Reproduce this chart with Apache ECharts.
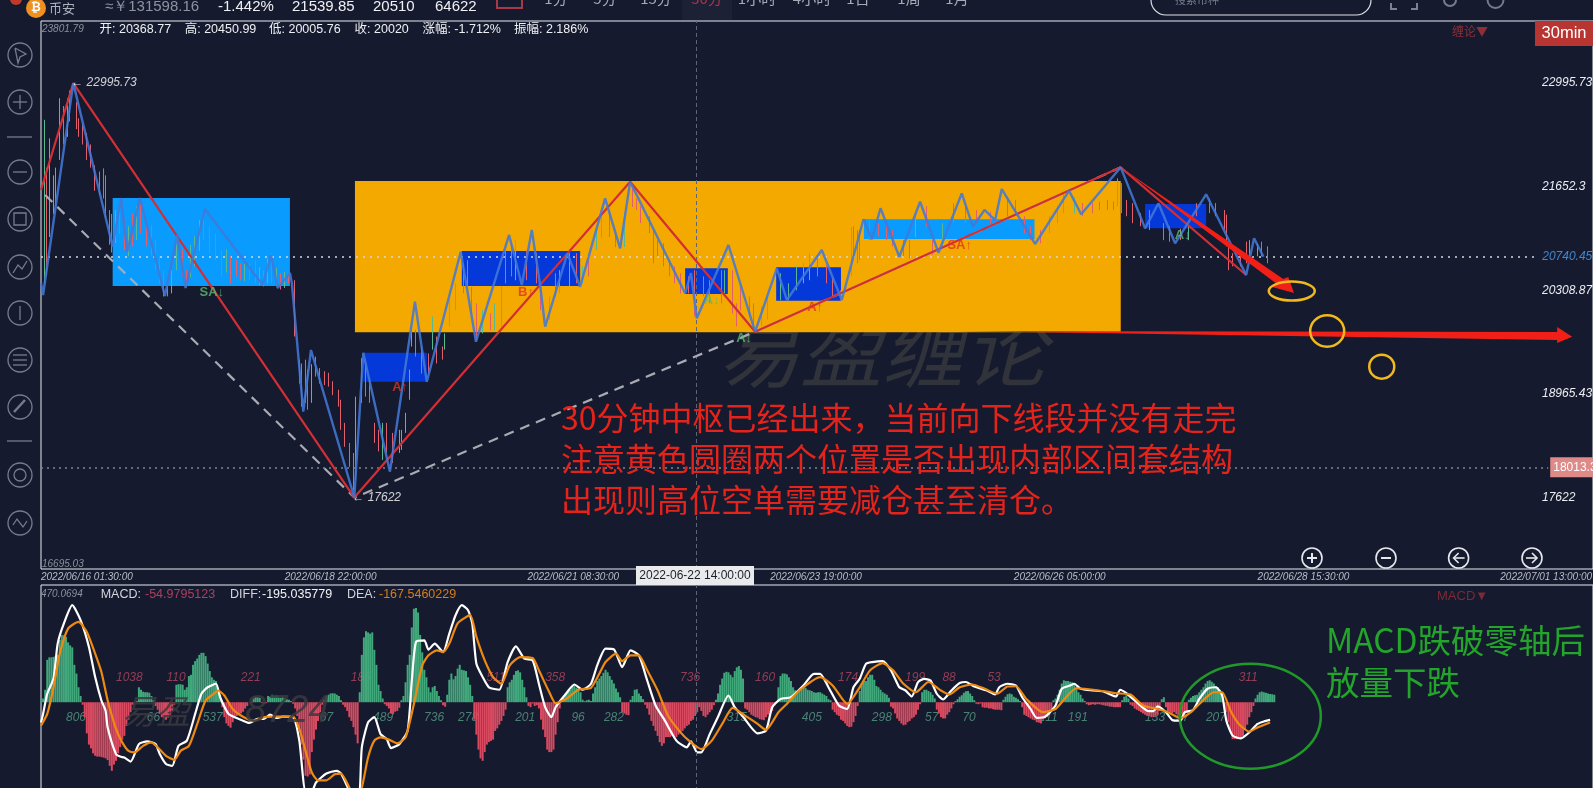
<!DOCTYPE html>
<html><head><meta charset="utf-8">
<style>html,body{margin:0;padding:0;background:#161a2e;overflow:hidden}#c{width:1593px;height:788px}</style>
<script src="https://cdn.jsdelivr.net/npm/echarts@6/dist/echarts.min.js"></script>
</head><body><div id="c"></div>
<script>
const tickBars=[0,117,233.5,350,467,584,700.5];
const tickTimes=['2022/06/16 01:30:00','2022/06/18 22:00:00','2022/06/21 08:30:00','2022/06/23 19:00:00','2022/06/26 05:00:00','2022/06/28 15:30:00','2022/07/01 13:00:00'];
const priceTicks=[22995.73,21652.3,20308.87,18965.43,17622];
const priceMin=16695.03, priceMax=23801.79, macdMax=470.0694, macdMin=-356, barMax=745;
const crossBar=314.5, lastPrice=20740.45, crossPrice=18013.3;

// 笔 (bar, price)
const biLine=[[0,20404],[1,20248],[15.5,22995.73],[34.4,20875],[38.4,21506],[41.4,20810],[47.5,21506],[59.5,20235],[65.4,21027],[69.4,20339],[78.7,21364],[106.4,20378],[110.4,20767],[113.6,20339],[119.5,20534],[120.4,20404],[125.9,18735],[129.6,19535],[150.4,17622],[154.7,19500],[167.5,17957],[179.5,20162],[185.2,19124],[201.5,20810],[208.8,19643],[224.7,21027],[230.8,20378],[235.6,21091],[239.6,20378],[242,19837],[252.7,20789],[258.8,20356],[270.8,21502],[278,20854],[282.8,21718],[309.2,20270],[312,20534],[314.8,19946],[330,20897],[342.8,19772],[353.2,20595],[358,20184],[374.8,20832],[384.4,20184],[394.8,21230],[398.8,20971],[403,21373],[412,20745],[422,21458],[430.8,20797],[442,21567],[447.3,21134],[452.9,21351],[458,21221],[461.2,21623],[477.2,20910],[493.5,21601],[499.3,21295],[518.3,21904],[530,21113],[536.4,21438],[544.4,20919],[559.3,21554],[578.5,20508],[582.3,20984],[586.8,20745]];
// 线段
const segLine=[[0,21610],[15.5,22995.73],[150.4,17622],[282.8,21718],[342.8,19772],[518.3,21904],[578.5,20508]];
const trendLine=[[2,21545],[150.4,17622],[342.8,19772],[518.3,21904]];
// zones: bar from, bar to, price low, price high
const zoneOrange=[[150.7,518.3,19765,21727]];
const zoneCyan=[[34.4,119.5,20365,21506],[395,476.9,20975,21230]];
const zoneBlue=[[154.7,185.2,19124,19500],[202,258.8,20365,20819],[309.2,329.7,20261,20595],[352.9,384,20175,20608],[530,559.3,21113,21429]];
// bar, price, text
const signals=[[82,20287,'SA↓'],[172.4,19055,'A↑'],[232.8,20287,'B↑'],[322,20184,'A↓'],[337.5,19691,'A↓'],[371.6,20093,'A↑'],[441,20897,'SA↑'],[548,21027,'A↓']];
const extremes=[[15.5,22995.73,'← 22995.73'],[150.4,17622,'← 17622']];
const arrowDown=[[518.3,21904],[596.3,20456],[598.7,20482],[601.5,20274],[591,20352],[593.3,20391]];
const arrowFlat=[[439.8,19782],[727.8,19769],[727.8,19833],[735,19708],[727.8,19626],[727.8,19665]];
const rings=[[600.4,20300],[617.4,19782],[643.6,19319]];
const greenRing=[[580.5,-56]];

// bar, open, close, low, high
const candles=[[2,21600,21950,20400,22520],[3,21400,21050,20500,21900],[4,21500,22000,21000,22280],[6,21400,21700,21300,21800],[7,21500,21800,21400,21900],[9,22100,22600,22000,22800],[11,22600,22350,22200,22700],[13,22450,22700,22300,22800],[14,22600,22850,22500,22900],[17,22700,22500,22400,22750],[18,22500,22350,22300,22540],[20,22420,22260,22200,22470],[22,22280,22080,22000,22350],[24,22160,21960,21900,22200],[26,21880,21680,21600,21930],[28,21800,21620,21550,21850],[30,21830,21570,21500,21890],[31,21720,21330,21250,21800],[33,21300,21000,20900,21350],[34,21250,20900,20800,21300],
[36,21020,21250,20920,21350],[38,21350,21120,21040,21440],[40,21150,20900,20830,21220],[42,20850,21060,20750,21140],[44,21230,20950,20880,21310],[46,21050,21300,20960,21400],[48,21370,21120,21050,21440],[51,21120,20950,20880,21180],[53,21100,20850,20760,21150],[55,20900,20650,20570,20960],[57,20680,20470,20400,20750],[59,20500,20300,20230,20560],[61,20360,20270,20230,20400],[63,20330,20520,20270,20570],[65,20680,20920,20570,21010],[68,20770,20550,20490,20830],[70,20530,20400,20360,20570],[72,20560,20820,20480,20900],[74,20700,20950,20620,21010],[76,20900,21150,20820,21220],[78,21240,21030,20960,21310],[81,21060,20860,20790,21140],[84,20980,20780,20700,21050],[87,20770,20550,20490,20830],[89,20600,20780,20540,20840],[91,20690,20460,20400,20750],[94,20650,20540,20490,20700],[96,20610,20490,20440,20660],[98,20480,20600,20430,20650],[100,20610,20490,20440,20660],[103,20640,20460,20400,20700],[105,20420,20560,20380,20610],[107,20530,20400,20360,20570],[109,20450,20650,20400,20720],[111,20720,20470,20400,20790],[113,20420,20540,20370,20600],[115,20480,20360,20320,20530],[117,20380,20500,20340,20550],[119,20490,20440,20400,20530],[122,20350,19800,19710,20440],
[124,19360,19150,19100,19410],[125,19250,18920,18800,19360],[127,19300,18950,18850,19410],[128,19150,18850,18760,19280],[130,18900,19250,18850,19350],[132,19400,19250,19190,19450],[134,19260,19140,19100,19300],[136,19210,19120,19080,19260],[138,19200,19100,19060,19240],[140,19090,18990,18950,19130],[143,18970,18850,18800,19020],[144,18830,18560,18500,18890],[146,18540,18330,18280,18590],[148,18280,18080,18020,18330],[150,18100,17800,17720,18200],[151,18000,18800,17850,18930],[154,19000,19300,18850,19430],[156,19300,19000,18930,19360],[158,19100,18900,18850,19150],[160,18550,18380,18330,18590],[162,18450,18270,18220,18500],[164,18200,18500,18110,18590],[166,18500,18270,18200,18590],[169,18380,18150,18070,18460],[172,18270,18440,18200,18500],[173,18300,18450,18240,18500],[175,18500,18680,18460,18720],[177,18950,19200,18890,19280],[178,19650,19830,19580,19880],[180,19750,19500,19450,19800],[183,19530,19290,19230,19580],[186,19440,19290,19230,19490],[188,19600,19900,19540,19970],[190,19650,19420,19360,19710],[193,19540,19440,19410,19580],[194,19580,19700,19540,19750],
[196,20000,20200,19840,20190],[199,20120,20330,20050,20400],[203,20600,20300,20270,20660],[205,20650,20400,20360,20700],[207,20300,20080,20000,20350],[209,20100,19800,19660,20140],[212,19900,20020,19750,20050],[216,20000,19830,19790,20010],[218,19870,20080,19790,20140],[221,19950,20250,19840,20360],[223,20720,20450,20400,20830],[226,20900,20600,20490,20920],[228,20620,20890,20440,20960],[233,20760,20520,20440,20830],[238,20720,20480,20400,20790],[240,20300,20100,20050,20360],[244,19950,20140,19930,20230],[247,20470,20280,20230,20530],[249,20330,20510,20270,20570],[254,20450,20700,20360,20790],[257,20740,20500,20400,20790],[260,20400,20520,20400,20620],[263,20560,20470,20490,20700],[267,21000,21100,20830,21090],[269,21100,21260,20990,21310],[273,21320,21090,21000,21350],[276,21010,20950,20870,21050],[280,20950,21150,20870,21310],[284,21580,21410,21390,21630],[286,21470,21370,21350,21500],[288,21360,21230,21180,21400],[292,21230,21130,21050,21270],[294,21040,20760,20660,21090],[296,20960,20800,20750,20960],[299,20880,20680,20620,20920],[302,20660,20540,20490,20700],[304,20570,20460,20400,20620],[307,20490,20320,20270,20530],[311,20440,20330,20270,20490],[314,20500,20100,19970,20570],[318,20400,20270,20230,20490],[321,20350,20190,20140,20440],[327,20440,20190,20140,20570],[328,20250,20500,20270,20570],[332,20500,20170,20010,20570],[334,20100,19920,19840,20140],[336,20350,20130,20050,20360],[340,20190,20020,19970,20230],[342,20130,19950,19800,20140],[346,19920,20050,19840,20100],[349,20010,20200,19930,20230],[355,20280,20500,20180,20530],[359,20300,20380,20180,20400],[363,20350,20540,20310,20620],[366,20450,20620,20400,20660],[369,20570,20740,20440,20790],[373,20710,20550,20490,20720],[377,20620,20460,20400,20640],[380,20440,20280,20230,20480],[384,20300,20210,20180,20310],[389,20450,20950,20490,21130],[392,21000,20750,20660,21090],
[390,21040,20900,20750,21140],[393,20960,20780,20700,21090],[398,21200,21010,20960,21220],[402,21130,21050,21010,21180],[406,21140,21000,20960,21160],[409,21050,20930,20880,21090],[414,20920,20800,20750,20960],[417,20930,20790,20720,20960],[420,21070,21200,21000,21270],[425,21360,21220,21140,21400],[428,20920,20830,20770,20960],[433,21020,21150,20880,21180],[438,21320,21210,21180,21440],[444,21300,21220,21180,21440],[449,21300,21220,21180,21350],[456,21290,21220,21180,21330],[464,21450,21310,21270,21520],[468,21430,21350,21310,21480],[472,21200,21120,21050,21270],[475,21080,21010,20960,21140],[480,21000,20950,20920,21090],[484,21110,21200,21050,21270],[488,21260,21350,21180,21400],[491,21440,21550,21310,21570],[496,21430,21530,21310,21520],[500,21420,21350,21270,21440],[505,21400,21340,21310,21440],[508,21420,21370,21350,21460],[512,21440,21390,21350,21480],[515,21430,21370,21350,21460],[517,21600,21750,21400,21760],[519,21650,21400,21310,21700],[521,21430,21330,21270,21480],[524,21400,21280,21180,21440],[528,21250,21170,21140,21310],[532,21300,21170,21090,21350],[539,21130,21030,20960,21180],[542,21090,21000,20940,21140],[547,21070,21000,20960,21110],[551,21020,21100,20960,21140],[555,21380,21300,21270,21440],[561,21480,21370,21310,21500],[564,21400,21330,21270,21440],[568,21300,21170,21090,21350],[569,21200,20950,20880,21290],[570,20850,20700,20570,20880],[572,20780,20660,20620,20790],[576,20750,20660,20620,20790],[579,20850,20730,20660,20940],[580,20800,20920,20750,20960],[584,20850,20920,20750,20920],[586,20940,20810,20750,20940],[589,20850,20740,20660,20880]];

// MACD histogram, one value per bar from bar 0
const macdBars=[10,15,50,170,180,180,182,185,190,250,270,268,262,240,228,220,150,115,60,25,
-10,-60,-125,-170,-185,-205,-215,-218,-218,-220,-222,-225,-232,-255,-275,-250,-235,-205,-180,-150,-135,-95,-70,-40,-10,
0,5,60,50,42,40,40,38,25,8,-15,-30,-45,-60,-65,-70,-62,-50,-35,-10,
70,72,72,70,50,60,105,110,150,165,175,190,198,198,185,155,125,100,90,85,50,30,
-20,-60,-85,-95,-102,-80,-60,-55,-50,-45,-38,-25,-15,0,-3,18,22,20,18,-3,-5,-4,
25,22,30,24,28,22,18,22,15,12,10,5,-6,-25,-55,-100,-170,-230,-295,-298,-290,-200,-150,-110,-75,-40,-10,
10,25,30,35,36,35,30,25,8,-10,-20,-35,-60,-75,-100,-130,-165,
40,190,260,285,280,275,280,210,150,70,45,15,-8,-15,-25,-45,-48,-38,-35,-22,
8,25,80,150,190,300,375,378,360,270,200,130,100,60,40,60,65,45,25,8,-12,-18,30,90,115,
92,105,135,150,130,128,125,100,70,25,
-70,-130,-190,-225,-235,-200,-170,-160,-155,-150,-115,-105,-90,-75,-55,-30,
60,80,90,110,125,128,120,90,60,20,-15,-20,-5,-15,-12,-25,-70,-110,-140,-190,-200,-200,-190,-130,-80,-25,
5,20,35,45,50,62,65,58,50,40,10,4,8,10,5,35,60,85,95,105,118,130,120,105,90,75,55,40,20,
-40,-45,-50,-52,10,25,50,52,35,25,12,
-10,-25,-50,-75,-95,-115,-135,-160,-175,-165,-140,-140,-140,-135,-135,-140,-130,-120,-115,-105,-95,-90,-75,-70,-55,-40,-20,-35,-55,-60,-50,-40,-30,-12,
10,35,70,95,118,122,120,110,100,125,140,145,130,95,
-25,-30,-40,-50,-55,-60,-62,-68,-70,-72,-60,-50,-40,-35,-15,-5,
60,105,115,115,112,100,85,60,48,45,50,50,60,58,50,48,45,40,38,40,40,35,30,25,12,8,
-30,-40,-50,-55,-70,-75,-85,-95,-100,-98,-80,-55,-15,
45,75,90,85,100,110,110,90,65,60,50,40,35,30,18,
-18,-25,-45,-65,-75,-85,-92,-90,-80,-75,-65,-60,-50,-30,-8,
40,50,50,45,40,30,15,-30,-45,-60,-65,-65,-50,-40,-25,-8,
5,12,22,28,38,44,45,35,25,8,-6,-8,-5,-20,-22,-22,-25,-25,-28,-30,-30,-30,-32,
10,22,32,35,32,22,18,12,5,
-20,-50,-55,-60,-65,-70,-72,-80,-82,-85,-70,-65,-60,-50,-30,
8,15,30,50,75,88,85,85,82,80,75,60,40,30,15,5,
-8,-12,-10,-8,-10,-8,-8,-10,-12,-14,-15,-18,-18,-20,-20,-20,-20,
8,22,28,15,-10,-15,-25,-30,-35,-40,-45,-50,-55,-55,-60,-60,-55,-50,-35,12,20,
-20,-35,-40,-45,-40,-48,-50,-50,-55,-50,-40,
10,18,25,28,30,40,50,60,75,85,88,82,75,65,60,50,40,
-10,-40,-80,-120,-148,-148,-148,-146,-145,-135,-110,-90,-60,-40,-15,
15,30,40,43,40,38,35,33,32,30];
const diffLine=[[0,-81],[1,-47],[3,34],[6,94],[8,235],[11,316],[15,389],[19,329],[23,222],[26,101],[29,7],[31,-34],[32,-101],[36,-208],[38,-218],[40,-222],[43,-238],[47,-168],[51,-157],[55,-168],[57,-208],[60,-248],[63,-255],[66,-175],[70,-154],[74,-47],[77,34],[80,60],[84,74],[86,20],[90,-47],[93,-60],[97,-74],[100,-83],[104,-67],[107,-67],[110,-50],[113,-63],[116,-58],[121,-60],[124,-154],[127,-356],[130,-356],[132,-322],[137,-286],[142,-275],[144,-286],[148,-356],[151,-410],[153,-356],[154,-181],[157,-81],[160,-60],[163,-128],[166,-148],[168,-184],[172,-168],[176,-114],[178,87],[180,242],[184,248],[186,211],[189,235],[193,201],
[196,275],[199,349],[202,389],[205,369],[207,316],[209,154],[212,101],[215,60],[220,50],[224,161],[228,224],[232,175],[236,168],[239,74],[242,-20],[245,-60],[247,-20],[252,34],[256,71],[260,50],[264,74],[267,148],[271,215],[275,212],[279,141],[283,208],[287,188],[291,87],[295,-13],[299,-67],[305,-154],[310,-181],[312,-157],[315,-201],[317,-201],[321,-128],[325,-58],[330,27],[333,-20],[337,-58],[344,-125],[348,-114],[351,-20],[355,13],[360,20],[366,67],[371,114],[374,114],[378,60],[383,-13],[387,-27],[390,60],[393,94],
[396,154],[399,161],[404,165],[408,128],[412,60],[415,47],[418,23],[421,81],[424,94],[427,87],[430,34],[433,11],[437,47],[441,77],[444,81],[448,63],[454,47],[458,31],[460,60],[464,74],[468,67],[471,20],[475,-27],[478,-63],[482,-58],[487,-13],[490,54],[494,67],[496,74],[499,54],[505,47],[510,43],[516,23],[518,50],[521,36],[526,0],[531,-34],[534,-36],[536,-17],[540,-40],[543,-71],[547,-74],[549,-40],[553,-31],[556,13],[560,54],[564,60],[567,27],[569,-74],[572,-134],[576,-145],[580,-121],[584,-87],[587,-77],[590,-71]];
const deaLine=[[0,-94],[3,-47],[6,60],[9,195],[13,295],[18,322],[22,282],[26,195],[29,121],[32,7],[36,-107],[39,-161],[42,-195],[45,-201],[49,-175],[53,-161],[56,-181],[60,-215],[64,-231],[67,-195],[71,-175],[75,-87],[79,7],[83,34],[85,47],[88,27],[92,-27],[97,-58],[102,-74],[107,-60],[112,-58],[121,-58],[124,-107],[127,-195],[130,-282],[133,-313],[137,-313],[141,-289],[144,-286],[148,-342],[151,-389],[154,-342],[157,-222],[160,-154],[163,-141],[167,-150],[171,-165],[175,-141],[179,-7],[183,148],[186,188],[190,208],[193,201],
[196,235],[200,316],[206,349],[209,262],[213,168],[217,101],[221,74],[225,148],[230,181],[236,177],[239,128],[244,40],[247,-4],[252,13],[258,50],[264,58],[268,114],[271,161],[276,195],[279,165],[283,188],[287,188],[291,128],[296,47],[301,-54],[307,-121],[311,-154],[317,-188],[322,-154],[327,-87],[332,-23],[338,-54],[344,-87],[348,-111],[354,-40],[358,-7],[364,47],[374,101],[380,67],[387,-7],[393,60],
[398,128],[404,157],[409,128],[414,74],[420,40],[426,81],[432,47],[436,31],[441,60],[447,71],[453,54],[459,34],[464,63],[468,64],[473,13],[481,-40],[487,-27],[492,20],[497,56],[508,47],[516,36],[523,31],[529,-13],[536,-27],[541,-40],[547,-64],[552,-40],[556,-7],[563,40],[567,40],[571,-34],[575,-87],[580,-118],[584,-101],[590,-81]];
// MACD area totals printed above and below the zero line
const tagsUp=[[42.4,'1038'],[64.8,'110'],[100.7,'221'],[153.5,'185'],[218.4,'511'],[246.8,'358'],[311.6,'736'],[347.6,'160'],[387.4,'174'],[419.6,'199'],[435.9,'88'],[457.5,'53'],[579.5,'311']];
const tagsDown=[[16.8,'806'],[54,'66'],[82.4,'537'],[135.4,'567'],[164.2,'489'],[188.7,'736'],[205,'278'],[232.4,'201'],[257.8,'96'],[275,'282'],[334,'315'],[370,'405'],[403.6,'298'],[427.6,'57'],[445.5,'70'],[483.4,'211'],[497.7,'191'],[534.8,'133'],[548,'57'],[564,'207']];
const tagUpLevel=100, tagDownLevel=-60;

const ringRadii=[[23,9.5],[17,15.7],[12.5,12]];
const noteLines=['30分钟中枢已经出来，当前向下线段并没有走完','注意黄色圆圈两个位置是否出现内部区间套结构','出现则高位空单需要减仓甚至清仓。'];
const macdNote=['MACD跌破零轴后','放量下跌'];

const LAT='"Liberation Sans",Arial,sans-serif', CJK='"Noto Sans CJK SC","Noto Sans",sans-serif', MIX='"Liberation Sans","Noto Sans CJK SC",sans-serif';
const zonesSeries=(data,fill,z)=>({type:'custom',xAxisIndex:0,yAxisIndex:0,z,silent:true,clip:true,data,encode:{x:[0,1],y:[2,3]},
  renderItem:(p,api)=>{const a=api.coord([api.value(0),api.value(3)]),b=api.coord([api.value(1),api.value(2)]);
    return {type:'rect',shape:{x:a[0],y:a[1],width:b[0]-a[0],height:b[1]-a[1]},style:{fill}};}});
const polySeries=(pts,fill)=>({type:'custom',xAxisIndex:0,yAxisIndex:0,z:9,silent:true,clip:false,data:[pts[0]],encode:{x:0,y:1},
  renderItem:(p,api)=>({type:'polygon',shape:{points:pts.map(q=>api.coord(q))},style:{fill}})});
const ringSeries=(data,radii,stroke,lw,axis)=>({type:'custom',xAxisIndex:axis,yAxisIndex:axis,z:10,silent:true,clip:false,data,encode:{x:0,y:1},
  renderItem:(p,api)=>{const c=api.coord([api.value(0),api.value(1)]),r=radii[p.dataIndex];
    return {type:'ellipse',shape:{cx:c[0],cy:c[1],rx:r[0],ry:r[1]},style:{fill:'none',stroke,lineWidth:lw}};}});
const tagSeries=(tags,level,color)=>({type:'scatter',xAxisIndex:1,yAxisIndex:1,z:1,silent:true,symbolSize:0,
  data:tags.map(t=>({value:[t[0],level],name:t[1]})),
  label:{show:true,position:'inside',formatter:p=>p.name,color,fontFamily:LAT,fontStyle:'italic',fontSize:12}});

const series=[
 zonesSeries(zoneOrange,'#f4a900',2), zonesSeries(zoneCyan,'#0a9bff',3), zonesSeries(zoneBlue,'#0438d8',3),
 {type:'candlestick',xAxisIndex:0,yAxisIndex:0,z:4,silent:true,barWidth:1.3,data:candles,encode:{x:0,y:[1,2,3,4]},
  itemStyle:{color:'#58b890',color0:'#e25f6c',borderColor:'#58b890',borderColor0:'#e25f6c',borderWidth:1}},
 {type:'line',xAxisIndex:0,yAxisIndex:0,z:5,silent:true,symbol:'none',data:trendLine,lineStyle:{color:'#a9aab2',width:2.2,type:[10,7]}},
 {type:'line',xAxisIndex:0,yAxisIndex:0,z:6,silent:true,symbol:'none',data:segLine,lineStyle:{color:'#d22f35',width:2.2}},
 {type:'line',xAxisIndex:0,yAxisIndex:0,z:7,silent:true,symbol:'none',data:biLine,lineStyle:{color:'rgba(66,120,215,0.88)',width:2.4},
  markLine:{silent:true,symbol:'none',animation:false,z:4,data:[
   [{coord:[0,lastPrice],lineStyle:{color:'#d4d7de',width:1.5,type:[2,5]},label:{show:true,position:'end',distance:4,formatter:String(lastPrice),color:'#3f86cf',fontFamily:LAT,fontStyle:'italic',fontSize:12,padding:[0,0,8,0]}},{coord:[718.7,lastPrice]}],
   [{coord:[0,crossPrice],lineStyle:{color:'#7f8593',width:1.5,type:[2,4]},label:{show:true,position:'end',distance:2,formatter:String(crossPrice),color:'#fff',backgroundColor:'#dd8a88',fontFamily:LAT,fontSize:12,padding:[4,3]}},{coord:[723.5,crossPrice]}],
   [{coord:[crossBar,priceMin],lineStyle:{color:'#5d6579',width:1,type:[4,3]},label:{show:false}},{coord:[crossBar,priceMax]}]
  ]}},
 polySeries(arrowDown,'#f02018'), polySeries(arrowFlat,'#f02018'),
 ringSeries(rings,ringRadii,'#f2b91c',2.5,0),
 ringSeries(greenRing,[[70.5,52.5]],'#1f9a29',2.5,1),
 {type:'scatter',xAxisIndex:0,yAxisIndex:0,z:8,silent:true,symbolSize:0,
  data:signals.map(s=>({value:[s[0],s[1]],name:s[2],label:{color:s[2].includes('↓')?'#5cba70':'#e1331f'}})),
  label:{show:true,position:'inside',formatter:p=>p.name,fontFamily:LAT,fontWeight:'bold',fontSize:13}},
 {type:'scatter',xAxisIndex:0,yAxisIndex:0,z:8,silent:true,symbolSize:0,
  data:extremes.map(s=>({value:[s[0],s[1]],name:s[2]})),
  label:{show:true,position:'right',distance:-2,formatter:p=>p.name,color:'#fff',fontFamily:LAT,fontStyle:'italic',fontSize:12}},
 tagSeries(tagsUp,tagUpLevel,'#b0465f'), tagSeries(tagsDown,tagDownLevel,'#559c85'),
 {type:'bar',xAxisIndex:1,yAxisIndex:1,z:2,silent:true,barWidth:2,data:macdBars.map((v,i)=>[i,v]),
  itemStyle:{color:p=>p.value[1]>=0?'#41a87c':'#d9495f'},
  markLine:{silent:true,symbol:'none',animation:false,label:{show:false},data:[{xAxis:crossBar,lineStyle:{color:'#5d6579',width:1,type:[4,3]}}]}},
 {type:'line',xAxisIndex:1,yAxisIndex:1,z:4,silent:true,symbol:'none',smooth:0.2,data:diffLine,lineStyle:{color:'#ffffff',width:2.2}},
 {type:'line',xAxisIndex:1,yAxisIndex:1,z:5,silent:true,symbol:'none',smooth:0.2,data:deaLine,lineStyle:{color:'#ee8a12',width:2.2}}
];

const T=(x,y,text,fill,fontSize,o={})=>({type:'text',z:o.z||50,silent:true,x,y,style:{text,fill,fontSize,fontFamily:o.f||CJK,fontStyle:o.i?'italic':'normal',fontWeight:o.w||'normal',align:o.a||'left',verticalAlign:'middle'}});
const LN=(x1,y1,x2,y2,stroke,lw=1.3)=>({type:'line',z:50,silent:true,shape:{x1,y1,x2,y2},style:{stroke,lineWidth:lw}});
const CIR=(cx,cy,r,stroke,lw=1.3)=>({type:'circle',z:50,silent:true,shape:{cx,cy,r},style:{fill:'none',stroke,lineWidth:lw}});
const PL=(pts,stroke,lw=1.3)=>({type:'polyline',z:50,silent:true,shape:{points:pts},style:{fill:'none',stroke,lineWidth:lw}});
const IC='#767b8c';
const graphic=[
 {type:'text',z:0,silent:true,x:718,y:350,style:{text:'易盈缠论',fill:'#30333a',fontSize:82,fontFamily:CJK,fontStyle:'italic',verticalAlign:'middle'}},
 T(122,711,'易盈','rgba(58,58,62,0.85)',34,{i:1,z:20}),T(245,711,'8724','rgba(58,58,62,0.85)',38,{i:1,f:LAT,z:20}),
 // top bar
 {type:'circle',z:50,silent:true,shape:{cx:36,cy:8,r:10},style:{fill:'#f0901e'}},T(36,8,'₿','#fff',12,{a:'center',f:LAT,w:'bold'}),
 {type:'circle',z:50,silent:true,shape:{cx:16,cy:-1,r:6},style:{fill:'#c0392b'}},
 T(49,8,'币安','#aeb2bd',13),T(105,7,'≈￥131598.16','#8f93a0',15,{f:LAT}),
 T(218,7,'-1.442%','#f0f1f4',15,{f:LAT}),T(292,7,'21539.85','#f0f1f4',15,{f:LAT}),T(373,7,'20510','#f0f1f4',15,{f:LAT}),T(435,7,'64622','#f0f1f4',15,{f:LAT}),
 {type:'rect',z:50,silent:true,shape:{x:497,y:-10,width:25,height:18},style:{fill:'none',stroke:'#a83a48',lineWidth:2}},
 {type:'rect',z:49,silent:true,shape:{x:682,y:0,width:50,height:20},style:{fill:'#1c2136'}},
 ...[[556,'1分'],[605,'5分'],[656,'15分'],[707,'30分'],[757,'1小时'],[812,'4小时'],[858,'1日'],[909,'1周'],[957,'1月']].map((d,k)=>T(d[0],-2,d[1],k==3?'#a8344a':'#a6aab6',15,{a:'center'})),
 {type:'rect',z:50,silent:true,shape:{x:1151,y:-20,width:220,height:35,r:15},style:{fill:'none',stroke:'#dfe1e6',lineWidth:1.2}},
 T(1175,0,'搜索币种','#777c8c',11),
 PL([[1391,3],[1391,9],[1397,9]],'#7d8292',2),PL([[1417,3],[1417,9],[1411,9]],'#7d8292',2),
 CIR(1450,0,6,IC,2),CIR(1495.5,0,8,IC,2),
 // left toolbar
 ...[55,102,172,219,267,313,360,407,475,523].map(y=>CIR(20,y,12,IC)),
 LN(7,137,32,137,IC),LN(7,441,32,441,IC),
 PL([[15,48],[26,54],[20,57],[18,63],[15,48]],IC),LN(20,95,20,109,IC),LN(13,102,27,102,IC),LN(13,172,27,172,IC),
 {type:'rect',z:50,silent:true,shape:{x:14,y:213,width:12,height:12},style:{fill:'none',stroke:IC,lineWidth:1.3}},
 PL([[13,273],[18,265],[22,269],[27,261]],IC),LN(20,306,20,320,IC),LN(13,355,27,355,IC),LN(13,360,27,360,IC),LN(13,365,27,365,IC),
 LN(14,412,25,400,IC,2.5),CIR(20,475,6,IC),PL([[13,525],[17,519],[23,527],[27,521]],IC),
 // header rows
 T(42,29,'23801.79','#8c909c',10,{i:1,f:LAT}),T(42,564,'16695.03','#8c909c',10,{i:1,f:LAT}),T(41,594,'470.0694','#8c909c',10,{i:1,f:LAT}),
 T(99.5,30,'开: 20368.77','#eef0f3',12.5,{f:MIX}),T(184.7,30,'高: 20450.99','#eef0f3',12.5,{f:MIX}),T(269,30,'低: 20005.76','#eef0f3',12.5,{f:MIX}),T(354.6,30,'收: 20020','#eef0f3',12.5,{f:MIX}),T(422.4,30,'涨幅: -1.712%','#eef0f3',12.5,{f:MIX}),T(514,30,'振幅: 2.186%','#eef0f3',12.5,{f:MIX}),
 T(100.7,595,'MACD:','#d3d5db',12.5,{f:MIX}),T(145,595,'-54.9795123','#a8425e',12.5,{f:MIX}),T(230,595,'DIFF:','#d3d5db',12.5,{f:MIX}),T(262,595,'-195.035779','#f2f3f5',12.5,{f:MIX}),T(347,595,'DEA:','#d3d5db',12.5,{f:MIX}),T(379,595,'-167.5460229','#d27f1d',12.5,{f:MIX}),
 T(1452,31,'缠论▼','#8e2f35',12),T(1437,596,'MACD▼','#7c2a36',13,{f:LAT}),
 {type:'rect',z:60,silent:true,shape:{x:1535,y:21,width:58,height:25},style:{fill:'#b83532'}},
 T(1564,33.5,'30min','#fff',16.5,{a:'center',f:LAT,z:61}),
 // crosshair time box
 {type:'rect',z:60,silent:true,shape:{x:636,y:566,width:118,height:19},style:{fill:'#e9eaec'}},
 T(695,576,'2022-06-22 14:00:00','#1b1e2a',12,{a:'center',z:61,f:LAT}),
 // zoom buttons
 ...[1312,1386,1458.6,1532].map(x=>CIR(x,558,10,'#e6e8ec',1.6)),
 LN(1307,558,1317,558,'#e6e8ec',2),LN(1312,553,1312,563,'#e6e8ec',2),LN(1381,558,1391,558,'#e6e8ec',2),
 PL([[1458.6,553],[1453.6,558],[1458.6,563]],'#e6e8ec',1.6),LN(1453.6,558,1464.6,558,'#e6e8ec',1.6),
 PL([[1532,553],[1537,558],[1532,563]],'#e6e8ec',1.6),LN(1526,558,1537,558,'#e6e8ec',1.6),
 // notes
 ...noteLines.map((s,k)=>T(561,[418,459,500][k],s,'#e5231b',32,{z:40})),
 ...macdNote.map((s,k)=>T(1326,[640,682][k],s,'#22a52a',33.5,{z:40}))
];

const chart=echarts.init(document.getElementById('c'),null,{renderer:'canvas'});
chart.setOption({
 animation:false,backgroundColor:'#161a2e',
 grid:[{left:41,top:21,right:0,height:548,outerBoundsMode:'none',containLabel:false,show:true,borderColor:'#e8ebf0',borderWidth:1,backgroundColor:'transparent',z:1},
       {left:41,top:585,right:0,height:206,outerBoundsMode:'none',containLabel:false,show:true,borderColor:'#e8ebf0',borderWidth:1,backgroundColor:'transparent',z:1}],
 xAxis:[{type:'value',gridIndex:0,min:0,max:barMax,axisLine:{show:false},axisTick:{show:false},splitLine:{show:false},
         axisLabel:{show:true,customValues:tickBars,formatter:v=>tickTimes[tickBars.indexOf(v)]||'',align:'left',margin:3,color:'#b9bdc7',fontFamily:LAT,fontStyle:'italic',fontSize:10}},
        {type:'value',gridIndex:1,min:0,max:barMax,axisLine:{show:false},axisTick:{show:false},splitLine:{show:false},axisLabel:{show:false}}],
 yAxis:[{type:'value',gridIndex:0,position:'right',min:priceMin,max:priceMax,axisLine:{show:false},axisTick:{show:false},splitLine:{show:false},
         axisLabel:{show:true,inside:true,customValues:priceTicks,formatter:v=>String(v),align:'left',margin:51,padding:[0,0,9,0],color:'#eceef2',fontFamily:LAT,fontStyle:'italic',fontSize:12}},
        {type:'value',gridIndex:1,min:macdMin,max:macdMax,axisLine:{show:false},axisTick:{show:false},splitLine:{show:false},axisLabel:{show:false}}],
 series,graphic
});
</script></body></html>
